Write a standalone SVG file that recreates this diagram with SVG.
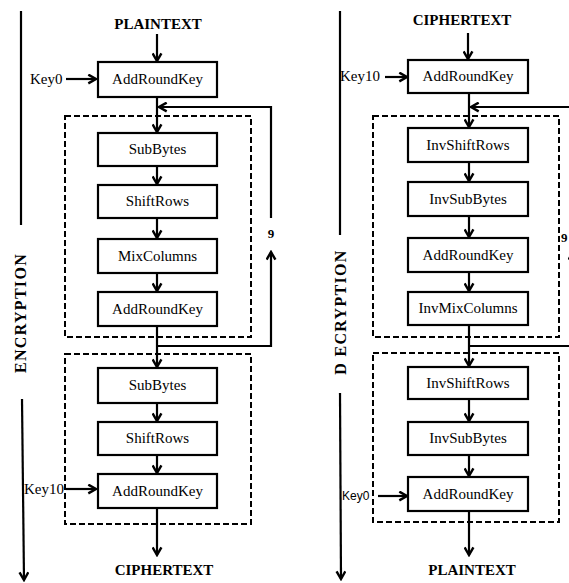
<svg xmlns="http://www.w3.org/2000/svg" width="569" height="583" viewBox="0 0 569 583">
<style>
.box{fill:#fff;stroke:#000;stroke-width:2.2}
.dash{fill:none;stroke:#000;stroke-width:2;stroke-dasharray:6 3}
.ln{fill:none;stroke:#000;stroke-width:2.2}
.ar{fill:none;stroke:#000;stroke-width:2.2;marker-end:url(#ah)}
.t{font-family:"Liberation Serif",serif;font-size:15px;fill:#000;text-anchor:middle}
.h{font-family:"Liberation Serif",serif;font-size:15px;font-weight:bold;fill:#000;text-anchor:middle}
.k{font-family:"Liberation Serif",serif;font-size:15px;fill:#000}
.v{font-family:"Liberation Serif",serif;font-size:16px;font-weight:bold;fill:#000;text-anchor:middle;letter-spacing:1.3px}
</style>
<defs>
<marker id="ah" viewBox="0 0 10 10" refX="8.5" refY="5" markerWidth="11" markerHeight="11" markerUnits="userSpaceOnUse" orient="auto">
<path d="M1.5,1 L8.5,5 L1.5,9" fill="none" stroke="#000" stroke-width="2.2"/>
</marker>
</defs>

<g id="connectors">
<!-- left side -->
<line class="ln" x1="21" y1="11" x2="21" y2="225"/>
<line class="ar" x1="22" y1="399" x2="24" y2="580"/>
<line class="ar" x1="157" y1="34" x2="157" y2="61"/>
<line class="ar" x1="66" y1="79" x2="96" y2="79"/>
<line class="ar" x1="157" y1="97" x2="157" y2="132"/>
<polyline class="ar" points="271,218 271,107 159,107"/>
<line class="ar" x1="157" y1="166" x2="157" y2="184"/>
<line class="ar" x1="157" y1="218" x2="157" y2="238"/>
<line class="ar" x1="157" y1="273" x2="157" y2="291"/>
<line class="ar" x1="157" y1="326" x2="157" y2="367"/>
<polyline class="ar" points="157,346 271,346 271,252"/>
<line class="ar" x1="157" y1="403" x2="157" y2="421"/>
<line class="ar" x1="157" y1="455" x2="157" y2="473"/>
<line class="ar" x1="66" y1="489" x2="96" y2="489"/>
<line class="ar" x1="157" y1="508" x2="157" y2="555"/>
<!-- right side -->
<line class="ln" x1="340" y1="11" x2="340" y2="235"/>
<line class="ar" x1="340" y1="393" x2="341" y2="579"/>
<line class="ar" x1="468" y1="33" x2="468" y2="59"/>
<line class="ar" x1="385" y1="77" x2="407" y2="77"/>
<line class="ar" x1="469" y1="93" x2="469" y2="127"/>
<line class="ar" x1="572" y1="107" x2="471" y2="107"/>
<line class="ar" x1="469" y1="162" x2="469" y2="181"/>
<line class="ar" x1="469" y1="216" x2="469" y2="237"/>
<line class="ar" x1="469" y1="272" x2="469" y2="291"/>
<line class="ar" x1="469" y1="325" x2="469" y2="366"/>
<polyline class="ar" points="469,346 573,346 573,252"/>
<line class="ar" x1="469" y1="399" x2="469" y2="421"/>
<line class="ar" x1="469" y1="455" x2="469" y2="476"/>
<line class="ar" x1="378" y1="496" x2="407" y2="496"/>
<line class="ar" x1="469" y1="511" x2="469" y2="555"/>
</g>

<g id="encryption-labels">
<text class="h" x="158" y="29">PLAINTEXT</text>
<text class="h" x="164" y="575">CIPHERTEXT</text>
<text class="v" transform="translate(26,313) rotate(-90)">ENCRYPTION</text>
<text class="k" x="30" y="84">Key0</text>
<text class="k" x="24" y="494">Key10</text>
<text class="h" x="271" y="238" style="font-size:13px">9</text>
</g>

<g id="enc-round">
<rect class="dash" x="65" y="116" width="186" height="221"/>
</g>
<g id="enc-final">
<rect class="dash" x="65" y="354" width="186" height="170"/>
</g>

<g id="e-ark0"><rect class="box" x="98" y="62" width="119" height="35"/><text class="t" x="157.5" y="84">AddRoundKey</text></g>
<g id="e-sb1"><rect class="box" x="98" y="133" width="119" height="33"/><text class="t" x="157.5" y="154">SubBytes</text></g>
<g id="e-sr1"><rect class="box" x="98" y="185" width="119" height="33"/><text class="t" x="157.5" y="206">ShiftRows</text></g>
<g id="e-mc1"><rect class="box" x="98" y="239" width="119" height="34"/><text class="t" x="157.5" y="261">MixColumns</text></g>
<g id="e-ark1"><rect class="box" x="98" y="292" width="119" height="34"/><text class="t" x="157.5" y="314">AddRoundKey</text></g>
<g id="e-sb2"><rect class="box" x="98" y="368" width="119" height="35"/><text class="t" x="157.5" y="390">SubBytes</text></g>
<g id="e-sr2"><rect class="box" x="98" y="422" width="119" height="33"/><text class="t" x="157.5" y="443">ShiftRows</text></g>
<g id="e-ark2"><rect class="box" x="98" y="474" width="119" height="34"/><text class="t" x="157.5" y="496">AddRoundKey</text></g>

<g id="decryption-labels">
<text class="h" x="462" y="25">CIPHERTEXT</text>
<text class="h" x="472" y="575">PLAINTEXT</text>
<text class="v" transform="translate(346,312) rotate(-90)">D ECRYPTION</text>
<text class="k" x="340" y="81">Key10</text>
<text class="k" x="342" y="500" style="font-family:'Liberation Sans',sans-serif;font-size:12px">Key0</text>
<text class="h" x="561" y="242" style="font-size:13px;text-anchor:start">9</text>
</g>

<g id="dec-round">
<rect class="dash" x="373" y="116" width="186" height="221"/>
</g>
<g id="dec-final">
<rect class="dash" x="373" y="353" width="186" height="169"/>
</g>

<g id="d-ark0"><rect class="box" x="408" y="60" width="120" height="33"/><text class="t" x="468" y="81">AddRoundKey</text></g>
<g id="d-isr1"><rect class="box" x="408" y="128" width="120" height="34"/><text class="t" x="468" y="150">InvShiftRows</text></g>
<g id="d-isb1"><rect class="box" x="408" y="182" width="120" height="34"/><text class="t" x="468" y="204">InvSubBytes</text></g>
<g id="d-ark1"><rect class="box" x="408" y="238" width="120" height="34"/><text class="t" x="468" y="260">AddRoundKey</text></g>
<g id="d-imc1"><rect class="box" x="408" y="292" width="120" height="33"/><text class="t" x="468" y="313">InvMixColumns</text></g>
<g id="d-isr2"><rect class="box" x="408" y="367" width="120" height="32"/><text class="t" x="468" y="388">InvShiftRows</text></g>
<g id="d-isb2"><rect class="box" x="408" y="422" width="120" height="33"/><text class="t" x="468" y="443">InvSubBytes</text></g>
<g id="d-ark2"><rect class="box" x="408" y="477" width="120" height="34"/><text class="t" x="468" y="499">AddRoundKey</text></g>
</svg>
